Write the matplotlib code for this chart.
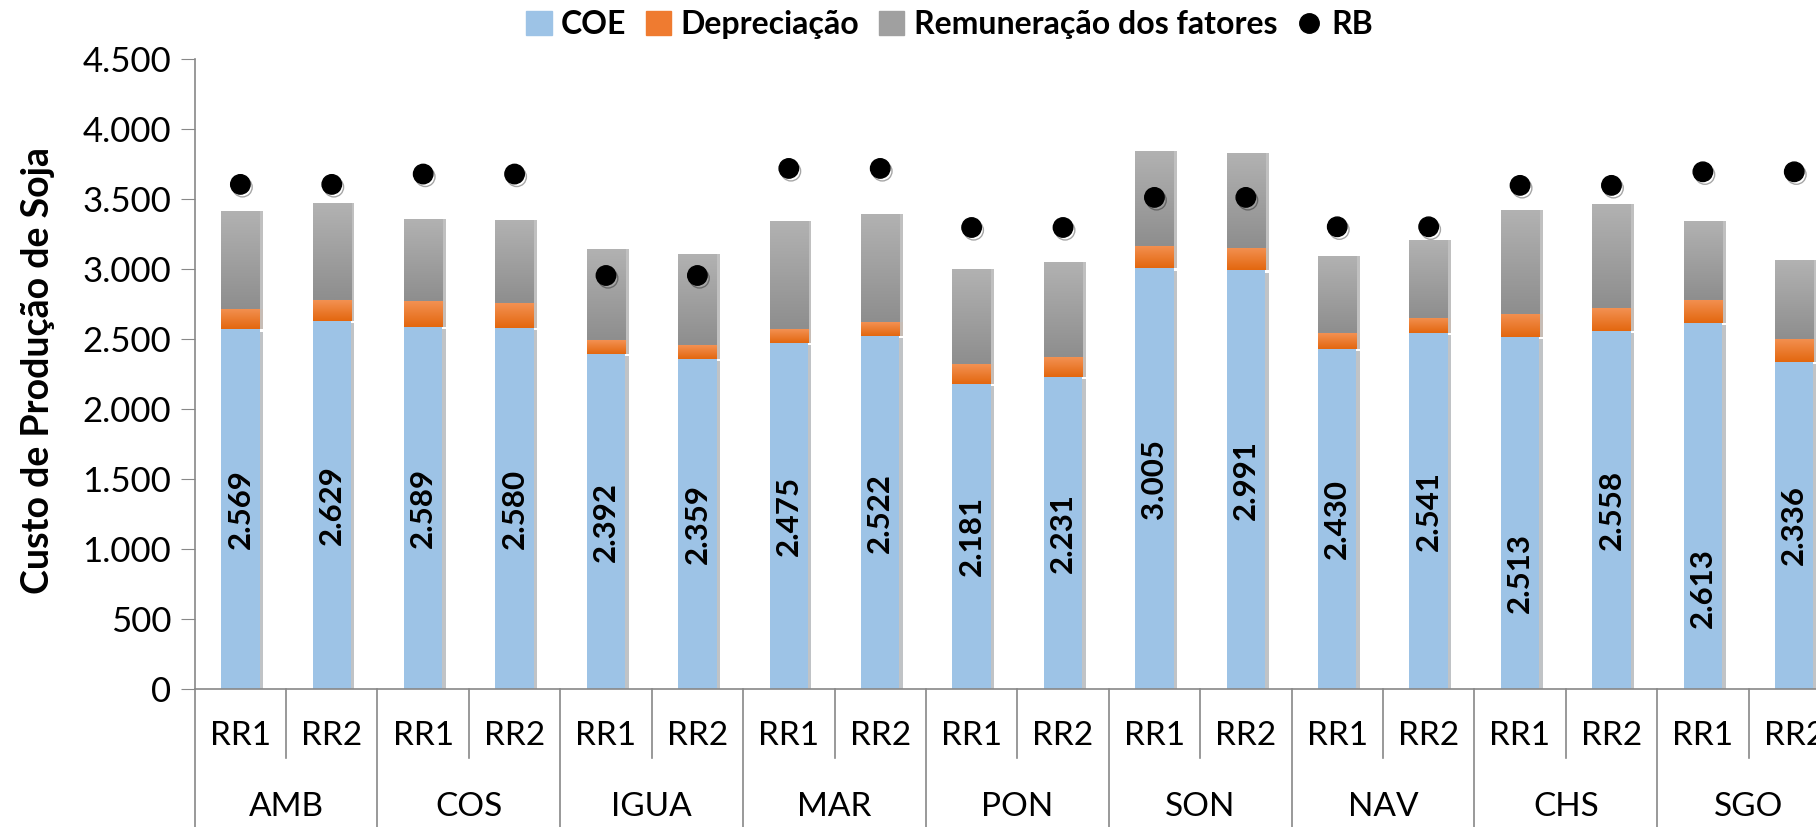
import numpy as np
import matplotlib
matplotlib.use("Agg")
import matplotlib.pyplot as plt
import matplotlib.patheffects as pe
import matplotlib.transforms as mtransforms
from matplotlib.colors import LinearSegmentedColormap
from matplotlib.patches import Patch
from matplotlib.lines import Line2D

plt.rcParams['font.family'] = ['Lato', 'DejaVu Sans']

# data
groups = ['AMB', 'COS', 'IGUA', 'MAR', 'PON', 'SON', 'NAV', 'CHS', 'SGO']
variants = ['RR1', 'RR2']
coe = [2569, 2629, 2589, 2580, 2392, 2359, 2475, 2522, 2181, 2231,
       3005, 2991, 2430, 2541, 2513, 2558, 2613, 2336]
depreciacao = [145, 150, 182, 175, 100, 98, 96, 100, 140, 140,
               160, 159, 112, 109, 165, 163, 166, 167]
remuneracao = [701, 693, 587, 596, 651, 651, 773, 772, 679, 679,
               679, 680, 551, 558, 744, 744, 565, 562]
rb = [3606, 3606, 3680, 3680, 2955, 2955, 3720, 3720, 3298, 3298,
      3513, 3513, 3303, 3303, 3599, 3599, 3696, 3696]
# two value labels sit lower than the middle of their bar in the original
moved_labels = {14: 830, 16: 719}

coe_color = '#9DC3E6'
orange_cmap = LinearSegmentedColormap.from_list('o', ['#E3670F', '#F39152'])
gray_cmap = LinearSegmentedColormap.from_list('g', ['#8E8E8E', '#B2B2B2'])

fig = plt.figure(figsize=(18.16, 8.27), dpi=100)
ax = fig.add_axes([0.1072, 0.1669, 0.906, 0.7614])

n = len(coe)
x = np.arange(n)
w = 0.42
coe = np.array(coe)
dep = np.array(depreciacao)
rem = np.array(remuneracao)

shadow = [pe.SimplePatchShadow(offset=(2.5, -1.5), alpha=0.3), pe.Normal()]
side_shadow = [pe.SimplePatchShadow(offset=(2.5, 0), alpha=0.3), pe.Normal()]

ax.bar(x, coe, w, color=coe_color, zorder=2, path_effects=shadow)


def gradient_bars(bottoms, heights, cmap):
    bars = ax.bar(x, heights, w, bottom=bottoms, color=cmap(0.5), zorder=2,
                  path_effects=side_shadow)
    grad = np.linspace(0, 1, 64).reshape(-1, 1)
    for b in bars:
        x0, y0 = b.get_x(), b.get_y()
        im = ax.imshow(grad, cmap=cmap, origin='lower', aspect='auto',
                       extent=[x0, x0 + b.get_width(), y0, y0 + b.get_height()],
                       zorder=2.1)
        im.set_clip_path(b)


gradient_bars(coe, dep, orange_cmap)
gradient_bars(coe + dep, rem, gray_cmap)

ax.plot(x, rb, 'o', color='black', markersize=14, linestyle='none', zorder=4,
        path_effects=[pe.SimpleLineShadow(offset=(1.5, -2), alpha=0.35), pe.Normal()])

for i, v in enumerate(coe):
    y = moved_labels.get(i, v / 2)
    ax.text(i, y, f"{v:,}".replace(',', '.'), rotation=90, ha='center', va='center',
            fontsize=22.5, fontweight='bold', color='black', zorder=5)

ax.set_xlim(-0.5, n - 0.5)
ax.set_ylim(0, 4500)
ax.set_yticks(np.arange(0, 4501, 500))
ax.set_yticklabels([f"{t:,}".replace(',', '.') for t in range(0, 4501, 500)])
ax.tick_params(axis='y', labelsize=25, length=10, color='#888888', pad=7)
ax.tick_params(axis='x', bottom=False, labelbottom=False)
for s in ['top', 'right']:
    ax.spines[s].set_visible(False)
for s in ['left', 'bottom']:
    ax.spines[s].set_color('#888888')
    ax.spines[s].set_linewidth(1.2)

ax.set_ylabel('Custo de Produção de Soja', fontsize=27, fontweight='bold')
ax.yaxis.set_label_coords(-0.085, 0.505)

# two-level category axis
trans = mtransforms.blended_transform_factory(ax.transData, ax.transAxes)
for i in range(n):
    ax.text(i, -0.0746, variants[i % 2], transform=trans, ha='center', va='center',
            fontsize=24, clip_on=False)
for g, name in enumerate(groups):
    ax.text(2 * g + 0.5, -0.187, name, transform=trans, ha='center', va='center',
            fontsize=24, clip_on=False)
for k in range(n + 1):
    bottom = -0.3 if k % 2 == 0 else -0.1096
    ax.add_line(Line2D([k - 0.5, k - 0.5], [0, bottom], transform=trans,
                       color='#888888', linewidth=1.2, clip_on=False))

handles = [Patch(color=coe_color), Patch(color='#EF7B30'), Patch(color='#A0A0A0'),
           Line2D([], [], marker='o', color='black', linestyle='none', markersize=14)]
labels = ['COE', 'Depreciação', 'Remuneração dos fatores', 'RB']
fig.legend(handles, labels, loc='center', bbox_to_anchor=(0.523, 0.970), ncol=4,
           frameon=False, prop={'weight': 'bold', 'size': 23},
           handlelength=0.8, handleheight=0.8, handletextpad=0.3, columnspacing=0.6)

fig.savefig('out.png', dpi=100)
